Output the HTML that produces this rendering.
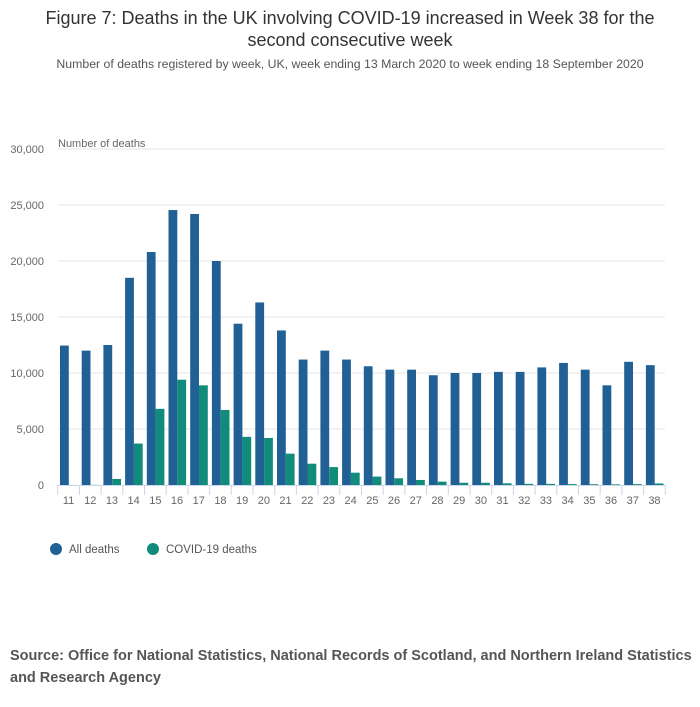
<!DOCTYPE html>
<html><head><meta charset="utf-8"><style>
body{margin:0;background:#fff;font-family:"Liberation Sans",sans-serif;}
#wrap{position:relative;width:700px;height:707px;overflow:hidden;}
.t{position:absolute;left:0;width:700px;text-align:center;}
</style></head><body>
<div id="wrap">
<div class="t" style="top:7px;font-size:18px;line-height:22px;color:#333;">Figure 7: Deaths in the UK involving COVID-19 increased in Week 38 for the<br>second consecutive week</div>
<div class="t" style="top:57px;font-size:12.3px;color:#555;">Number of deaths registered by week, UK, week ending 13 March 2020 to week ending 18 September 2020</div>
<svg id="c" width="700" height="707" style="position:absolute;left:0;top:0"></svg>
<div style="position:absolute;left:10px;top:645px;font-size:14.5px;font-weight:bold;color:#555;line-height:22px;white-space:nowrap;">Source: Office for National Statistics, National Records of Scotland, and Northern Ireland Statistics<br>and Research Agency</div>
</div>
<script>
const weeks=[11,12,13,14,15,16,17,18,19,20,21,22,23,24,25,26,27,28,29,30,31,32,33,34,35,36,37,38];
const allDeaths=[12450,12000,12500,18500,20800,24550,24200,20000,14400,16300,13800,11200,12000,11200,10600,10300,10300,9800,10000,10000,10100,10100,10500,10900,10300,8900,11000,10700];
const covidDeaths=[5,10,540,3700,6800,9400,8900,6700,4300,4200,2800,1900,1600,1100,750,600,450,300,200,200,150,100,100,80,70,60,80,140];
const yTicks=[0,5000,10000,15000,20000,25000,30000];
const NS="http://www.w3.org/2000/svg";
const svg=document.getElementById('c');
const x0=57.7,bw=21.7,y0=485,yTop=149,yMax=30000;
function y(v){return y0-(v/yMax)*(y0-yTop);}
function xb(i){return x0+i*bw;}
function mk(t,a){const e=document.createElementNS(NS,t);for(const k in a)e.setAttribute(k,a[k]);svg.appendChild(e);return e;}
yTicks.forEach(v=>{
 if(v>0){const l=mk('line',{x1:x0,x2:665,y1:y(v),y2:y(v),stroke:'#e6e6e6','stroke-width':1});
 
 }
 const t=mk('text',{x:44,y:y(v)+4,'text-anchor':'end','font-size':11,fill:'#666','font-family':'Liberation Sans, sans-serif'});
 t.textContent=v.toLocaleString('en-GB');
 
 
});
const yt=mk('text',{x:58,y:147,'font-size':11,fill:'#666','font-family':'Liberation Sans, sans-serif'});
yt.textContent='Number of deaths';


weeks.forEach((w,i)=>{
 const b=mk('rect',{x:xb(i)+2.3,y:y(allDeaths[i]),width:8.8,height:y0-y(allDeaths[i]),fill:'#206095'});
 
 
 const g=mk('rect',{x:xb(i)+11.1,y:y(covidDeaths[i]),width:8.8,height:y0-y(covidDeaths[i]),fill:'#118c7b'});
 
 
 const tk=mk('line',{x1:xb(i),x2:xb(i),y1:y0,y2:y0+10,stroke:'#ccd6eb','stroke-width':1});
 
 
 const t=mk('text',{x:xb(i)+bw/2,y:504,'text-anchor':'middle','font-size':11,fill:'#666','font-family':'Liberation Sans, sans-serif'});
 t.textContent=w;
 
 
});
const tl=mk('line',{x1:xb(weeks.length),x2:xb(weeks.length),y1:y0,y2:y0+10,stroke:'#ccd6eb','stroke-width':1});


const ax=mk('line',{x1:x0,x2:665,y1:y0+0.5,y2:y0+0.5,stroke:'#ccd6eb','stroke-width':1});


[['All deaths','#206095',56,69],['COVID-19 deaths','#118c7b',153,166]].forEach(([n,c,cx,tx])=>{
 const d=mk('circle',{cx:cx,cy:549,r:6,fill:c});
 
 
 const t=mk('text',{x:tx,y:553,'font-size':11.5,fill:'#555','font-family':'Liberation Sans, sans-serif'});
 t.textContent=n;
 
 
});
</script>
</body></html>
